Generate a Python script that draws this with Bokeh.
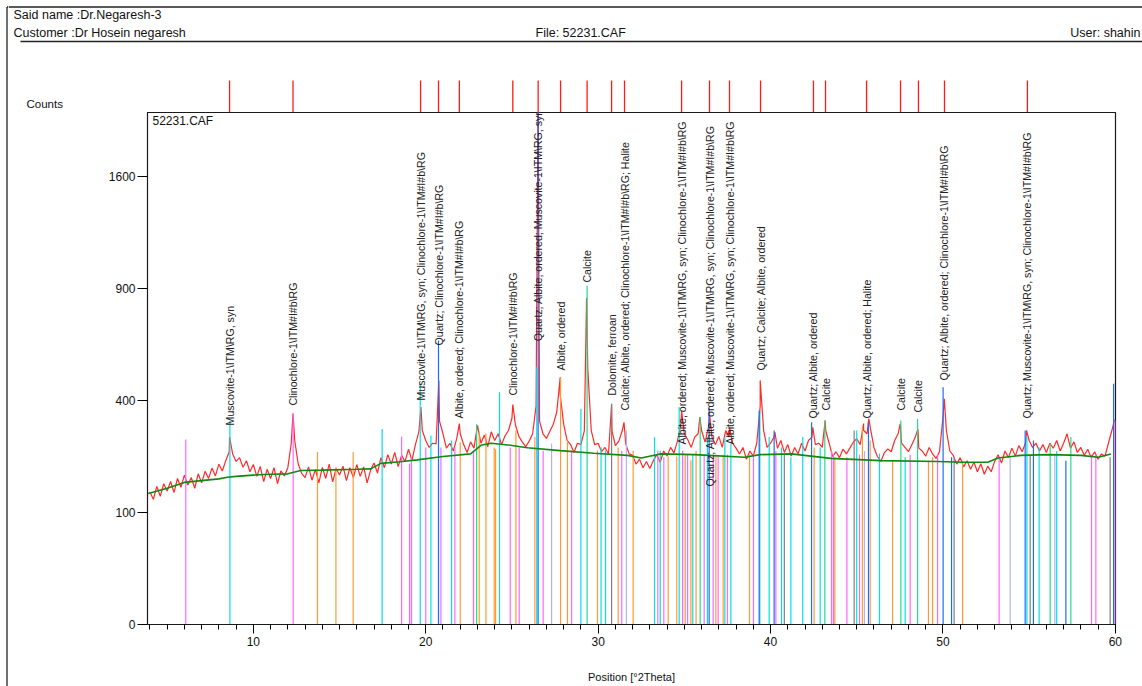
import numpy as np
from bokeh.plotting import figure
from bokeh.layouts import row, column
from bokeh.models import (Range1d, FixedTicker, SingleIntervalTicker, Label)
from bokeh.core.properties import value
from bokeh.embed import file_html
from bokeh.resources import INLINE

# ---------------- data ----------------
scan_start = 4.0
scan_step = 0.2
scan_counts = [
    140, 125, 152, 131, 158,  142, 163, 139, 170, 150,
    178, 155, 172, 148, 181,  160, 187, 170, 195, 176,
    205, 188, 214, 238, 232,  212, 222, 197, 214, 186,
    204, 175, 199, 163, 192,  170, 196, 158, 188, 176,
    196, 262, 270, 206, 182,  172, 198, 166, 192, 160,
    197, 170, 205, 162, 194,  178, 200, 165, 196, 172,
    204, 175, 198, 160, 190,  208, 183, 222, 196, 230,
    205, 236, 199, 228, 212,  245, 215, 258, 296, 300,
    270, 250, 262, 260, 330,  290, 248, 262, 240, 276,
    290, 258, 236, 266, 248,  316, 262, 286, 252, 296,
    270, 290, 258, 284, 300,  340, 318, 282, 266, 252,
    268, 290, 380, 330, 290,  276, 298, 320, 360, 420,
    320, 270, 258, 236, 262,  258, 300, 520, 300, 258,
    262, 238, 250, 232, 300,  255, 268, 300, 260, 232,
    228, 205, 218, 196, 212,  194, 214, 230, 210, 240,
    226, 250, 235, 268, 320,  290, 272, 250, 280, 290,
    300, 265, 310, 280, 258,  282, 250, 300, 280, 262,
    248, 232, 250, 218, 240,  226, 262, 380, 300, 250,
    262, 280, 248, 270, 236,  258, 226, 250, 232, 262,
    240, 270, 280, 258, 262,  250, 300, 262, 225, 238,
    222, 245, 232, 248, 265,  275, 258, 300, 290, 305,
    250, 225, 212, 235, 246,  238, 270, 290, 262, 250,
    238, 258, 280, 248, 240,  226, 250, 232, 220, 238,
    340, 300, 240, 228, 205,  222, 198, 214, 192, 210,
    186, 206, 180, 200, 186,  212, 230, 208, 240, 222,
    248, 226, 255, 238, 265,  270, 250, 262, 240, 258,
    236, 262, 248, 270, 240,  262, 290, 248, 266, 236,
    250, 228, 245, 222, 238,  218, 232, 226, 262, 300,
]
peak_top_pos = [8.62, 12.30, 19.72, 20.76, 21.95, 25.05, 26.52, 27.80, 29.33, 30.78,
                31.50, 34.84, 35.90, 36.46, 37.62, 39.40, 40.25, 42.45, 43.17, 45.40,
                45.70, 47.52, 48.55, 50.08, 54.85, 59.95]
peak_top_counts = [280, 355, 377, 475, 322, 386, 2300, 487, 850, 386,
                   326, 365, 343, 355, 310, 475, 295, 310, 332, 322,
                   338, 321, 305, 406, 300, 335]

bg_pos = [3.9, 5.0, 6.0, 7.0, 8.0, 8.5, 9.0, 10.0, 11.0, 12.0, 12.75, 14.0, 16.0, 16.8,
          17.4, 18.5, 19.5, 21.0, 22.6, 23.2, 23.8, 24.9, 25.9, 27.8, 29.75, 31.7, 32.5,
          33.6, 35.6, 38.5, 39.4, 41.2, 43.5, 46.4, 49.7, 51.2, 52.6, 53.2, 54.5, 56.1,
          58.0, 59.0, 59.75]
bg_counts = [137, 148, 161, 165, 169, 173, 175, 178, 180, 181, 189, 190, 192, 193,
             207, 211, 216, 225, 232, 256, 262, 256, 249, 241, 234, 228, 221,
             232, 230, 223, 230, 232, 220, 214, 212, 210, 210, 221, 228, 230,
             228, 223, 232]

quartz_pos = [20.74, 26.52, 36.44, 39.34, 40.21, 42.38, 45.68, 50.01, 50.5, 54.77, 55.25, 57.13, 59.9]
quartz_h = [643, 2300, 377, 365, 300, 326, 326, 449, 223, 300, 270, 214, 462]

calcite_pos = [22.95, 29.36, 35.92, 39.38, 43.15, 47.56, 48.53, 56.22, 57.42]
calcite_h = [320, 916, 343, 365, 332, 332, 337, 260, 280]

albite_pos = [13.72, 14.79, 15.79, 22.0, 23.1, 23.49, 23.97, 24.05, 25.23, 26.33, 27.82, 28.22,
              29.96, 31.16, 32.03, 34.06, 34.56, 35.05, 35.38, 35.68, 36.83, 37.25, 38.78,
              42.53, 43.73, 45.33, 45.78, 47.08, 49.16, 49.4, 51.14]
albite_h = [237, 197, 237, 265, 291, 291, 250, 245, 300, 280, 488, 270,
            241, 250, 241, 225, 225, 230, 215, 241, 230, 230, 230,
            250, 223, 310, 270, 214, 214, 223, 214]

muscovite_pos = [8.64, 17.47, 19.68, 20.3, 21.5, 24.28, 26.44, 29.0, 30.17, 30.43, 33.27, 33.6,
                 34.7, 35.49, 36.34, 37.35, 37.7, 39.92, 40.64, 41.18, 41.87, 42.88, 45.0,
                 46.32, 47.81, 54.87, 55.58, 56.6]
muscovite_h = [330, 305, 463, 285, 270, 430, 528, 371, 250, 241, 280, 241,
               377, 230, 280, 280, 260, 280, 250, 223, 280, 250, 300,
               233, 223, 280, 250, 240]

clinochlore_pos = [6.08, 12.31, 18.6, 19.06, 19.17, 20.0, 20.88, 21.69, 22.77, 24.9, 25.42, 26.81,
                   28.46, 31.37, 33.46, 33.81, 34.9, 35.19, 36.15, 36.67, 36.96, 37.5, 39.01,
                   40.31, 43.54, 43.65, 44.43, 45.16, 48.1, 49.69, 53.26, 58.62, 58.87, 59.99]
clinochlore_h = [273, 355, 282, 206, 223, 250, 250, 250, 241, 250, 250, 241,
                 241, 241, 241, 223, 241, 230, 230, 230, 230, 230, 230,
                 240, 240, 230, 223, 230, 230, 230, 223, 230, 230, 332]

dolomite_pos = [30.78, 40.8, 44.85, 50.65, 55.06, 59.7]
dolomite_h = [389, 230, 300, 223, 230, 223]

halite_pos = [27.3, 31.64, 45.45, 53.9, 56.49]
halite_h = [261, 300, 240, 223, 230]

marker_pos = [8.62, 12.30, 19.70, 20.74, 21.95, 25.05, 26.52, 27.82, 29.36, 30.78, 31.53,
              34.84, 36.46, 37.62, 39.42, 42.49, 43.19, 45.57, 47.54, 48.58, 50.09, 54.90]
marker_text = [
    r"Muscovite-1\ITM\RG, syn",
    r"Clinochlore-1\ITM#I#b\RG",
    r"Muscovite-1\ITM\RG, syn; Clinochlore-1\ITM#I#b\RG",
    r"Quartz; Clinochlore-1\ITM#I#b\RG",
    r"Albite, ordered; Clinochlore-1\ITM#I#b\RG",
    r"Clinochlore-1\ITM#I#b\RG",
    r"Quartz; Albite, ordered; Muscovite-1\ITM\RG, syn",
    r"Albite, ordered",
    r"Calcite",
    r"Dolomite, ferroan",
    r"Calcite; Albite, ordered; Clinochlore-1\ITM#I#b\RG; Halite",
    r"Albite, ordered; Muscovite-1\ITM\RG, syn; Clinochlore-1\ITM#I#b\RG",
    r"Quartz; Albite, ordered; Muscovite-1\ITM\RG, syn; Clinochlore-1\ITM#I#b\RG",
    r"Albite, ordered; Muscovite-1\ITM\RG, syn; Clinochlore-1\ITM#I#b\RG",
    r"Quartz; Calcite; Albite, ordered",
    r"Quartz; Albite, ordered",
    r"Calcite",
    r"Quartz; Albite, ordered; Halite",
    r"Calcite",
    r"Calcite",
    r"Quartz; Albite, ordered; Clinochlore-1\ITM#I#b\RG",
    r"Quartz; Muscovite-1\ITM\RG, syn; Clinochlore-1\ITM#I#b\RG",
]
marker_label_counts = [316, 382, 400, 621, 338, 418, 640, 514, 932, 418, 365,
                       258, 152, 258, 514, 338, 365, 338, 365, 358, 475, 338]

y_ticks = [0, 100, 400, 900, 1600]

header_texts = ["Said name :Dr.Negaresh-3", "Customer :Dr Hosein negaresh",
                "File: 52231.CAF", "User: shahin", "Counts"]

# ---------------- layout constants (page pixels) ----------------
PAGE_W, PAGE_H = 1142, 686
STRIP_W = 8
HEAD_H = 112
X0, X1 = 3.86, 60.01
Y_TOP = 2090.0
FL, FR, FT, FB = 147, 1115, 112, 624
FONT = "Liberation Sans"


def dx(px):
    return X0 + (px - FL) * (X1 - X0) / (FR - FL)


def dy(py):
    return (FB - py) * np.sqrt(Y_TOP) / (FB - FT)


MAIN_W = PAGE_W - STRIP_W
MAIN_H = PAGE_H - HEAD_H

# ---------------- left border strip ----------------
strip = figure(width=STRIP_W, height=PAGE_H, output_backend="svg", toolbar_location=None,
               x_range=Range1d(0, STRIP_W), y_range=Range1d(PAGE_H, 0),
               x_axis_type=None, y_axis_type=None, min_border=0)
strip.outline_line_color = None
strip.grid.visible = False
strip.frame_align = False
strip.segment(x0=[6.5, 6.5], y0=[6.5, 6.5], x1=[6.5, STRIP_W], y1=[PAGE_H, 6.5],
              line_color="#222222", line_width=1.3)

# ---------------- header ----------------
head = figure(width=MAIN_W, height=HEAD_H, output_backend="svg", toolbar_location=None,
              x_range=Range1d(dx(STRIP_W), dx(PAGE_W)), y_range=Range1d(HEAD_H, 0),
              x_axis_type=None, y_axis_type=None, min_border=0)
head.outline_line_color = None
head.grid.visible = False
head.frame_align = False
head.segment(x0=[dx(STRIP_W), dx(20)], y0=[6.5, 41], x1=[dx(PAGE_W), dx(PAGE_W)], y1=[6.5, 41],
             line_color="#222222", line_width=1.3)
head.text(x=[dx(13), dx(13), dx(535)], y=[14, 32, 32], text=header_texts[:3],
          text_align="left", text_baseline="middle", text_font=value(FONT),
          text_font_size="12.5px", text_color="#111111")
head.text(x=[dx(1140)], y=[32], text=[header_texts[3]], text_align="right",
          text_baseline="middle", text_font=value(FONT), text_font_size="12.5px",
          text_color="#111111")
head.text(x=[dx(26)], y=[103], text=[header_texts[4]], text_align="left",
          text_baseline="middle", text_font=value(FONT), text_font_size="11.5px",
          text_color="#111111")
# red peak markers above the plot box
head.segment(x0=marker_pos, y0=[80] * len(marker_pos), x1=marker_pos,
             y1=[HEAD_H] * len(marker_pos), line_color="#ff1a1a", line_width=1.3)

# ---------------- main plot ----------------
p = figure(width=MAIN_W, height=MAIN_H, output_backend="svg", toolbar_location=None,
           x_range=Range1d(X0, X1), y_range=Range1d(0, np.sqrt(Y_TOP)),
           min_border_left=FL - STRIP_W, min_border_right=PAGE_W - FR,
           min_border_top=FT - HEAD_H, min_border_bottom=PAGE_H - FB)
p.frame_align = False
p.xgrid.visible = False
p.ygrid.visible = False
p.outline_line_color = "#1a1a1a"
p.outline_line_width = 1.2
p.background_fill_color = "white"
p.border_fill_color = "white"

# y axis (square-root scale)
p.yaxis.ticker = FixedTicker(ticks=[float(np.sqrt(t)) for t in y_ticks])
p.yaxis.major_label_overrides = {float(np.sqrt(t)): str(t) for t in y_ticks}
p.yaxis.minor_tick_line_color = None
p.yaxis.major_tick_out = 10
p.yaxis.major_tick_in = 0
p.yaxis.major_label_standoff = 2
p.yaxis.major_label_text_font = FONT
p.yaxis.major_label_text_font_size = "12px"
p.yaxis.major_label_text_color = "#111111"
p.yaxis.axis_line_color = "#1a1a1a"

# x axis
p.xaxis.ticker = SingleIntervalTicker(interval=10, num_minor_ticks=10)
p.xaxis.major_tick_out = 9
p.xaxis.major_tick_in = 0
p.xaxis.minor_tick_out = 5
p.xaxis.minor_tick_in = 0
p.xaxis.major_label_standoff = 3
p.xaxis.major_label_text_font = FONT
p.xaxis.major_label_text_font_size = "12px"
p.xaxis.major_label_text_color = "#111111"
p.xaxis.axis_label = "Position [°2Theta]"
p.xaxis.axis_label_text_font = FONT
p.xaxis.axis_label_text_font_size = "11px"
p.xaxis.axis_label_text_font_style = "normal"
p.xaxis.axis_label_text_color = "#111111"
p.xaxis.axis_label_standoff = 22
p.xaxis.axis_line_color = "#1a1a1a"

# measured scan
scan_pos = scan_start + scan_step * np.arange(len(scan_counts))
all_pos = np.concatenate([scan_pos, np.array(peak_top_pos)])
all_cnt = np.concatenate([np.array(scan_counts, float), np.array(peak_top_counts, float)])
order = np.argsort(all_pos)
p.line(all_pos[order], np.sqrt(all_cnt[order]), line_color="#ff2a2a", line_width=1.2)

# reference sticks
phases = [
    (muscovite_pos, muscovite_h, "#00e0e8"),
    (clinochlore_pos, clinochlore_h, "#ff66ff"),
    (albite_pos, albite_h, "#ff9a33"),
    (calcite_pos, calcite_h, "#22dd88"),
    (dolomite_pos, dolomite_h, "#808080"),
    (halite_pos, halite_h, "#aab4ff"),
    (quartz_pos, quartz_h, "#1c6cff"),
]
for pos, h, col in phases:
    pos = np.array(pos, float)
    p.segment(x0=pos, y0=np.zeros_like(pos), x1=pos, y1=np.sqrt(np.array(h, float)),
              line_color=col, line_width=1.2)

# background
p.line(bg_pos, np.sqrt(np.array(bg_counts, float)), line_color="#118811", line_width=1.6)

# peak labels
p.text(x=marker_pos, y=np.sqrt(np.array(marker_label_counts, float)), text=marker_text,
       angle=np.pi / 2, text_align="left", text_baseline="middle",
       text_font=value(FONT), text_font_size="10.6px", text_color="#222222")

p.add_layout(Label(x=dx(152), y=dy(120), text="52231.CAF", text_align="left",
                   text_baseline="middle", text_font=FONT, text_font_size="12px",
                   text_color="#111111"))

layout = row(strip, column(head, p, spacing=0), spacing=0)
open("out.html", "w").write(file_html(layout, INLINE))
